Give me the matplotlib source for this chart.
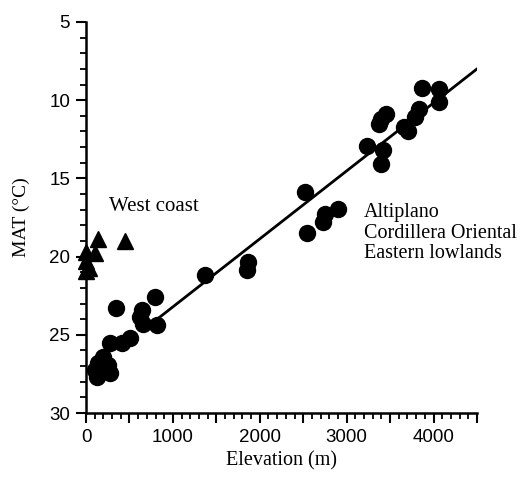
import numpy as np
import matplotlib.pyplot as plt
from matplotlib.ticker import MultipleLocator, FixedLocator, FixedFormatter

# West coast stations (triangles)
west_elev = [140, 450, 0, 100, 0, 40, 0]
west_mat = [18.9, 19.0, 19.7, 19.8, 20.3, 20.75, 20.9]

# Altiplano / Cordillera Oriental / Eastern lowlands stations (circles)
east_elev = [350, 795, 640, 620, 660, 815, 505, 410, 275, 200, 140, 105, 125, 275, 255,
             1370, 1865, 1850,
             2520, 2900, 2750, 2730, 2540,
             3870, 4060, 4065, 3830, 3790, 3660, 3710, 3450, 3400, 3370,
             3230, 3420, 3400]
east_mat = [23.3, 22.6, 23.4, 23.85, 24.3, 24.4, 25.2, 25.5, 25.5, 26.4, 26.8, 27.25, 27.7, 27.45, 26.95,
            21.2, 20.35, 20.85,
            15.85, 16.95, 17.25, 17.8, 18.5,
            9.2, 9.3, 10.1, 10.55, 11.05, 11.7, 11.95, 10.9, 11.2, 11.5,
            12.95, 13.2, 14.1]

# regression line end points
line_elev = [750, 4500]
line_mat = [24.3, 8.0]

x_ticks = np.arange(0, 4501, 500)
x_labels = ['0', '', '1000', '', '2000', '', '3000', '', '4000', '']

serif = 'Liberation Serif'
sans = 'Liberation Sans'

fig = plt.figure(figsize=(5.26, 4.79), dpi=100)
ax = fig.add_axes([86/526, 1-413/479, (477-86)/526, (413-22)/479])

ax.plot(line_elev, line_mat, color='black', lw=2, zorder=2)
ax.plot(east_elev, east_mat, 'o', color='black', ms=11.5, zorder=3)
ax.plot(west_elev, west_mat, '^', color='black', ms=11, zorder=3, clip_on=False)

ax.set_xlim(0, 4500)
ax.set_ylim(30, 5)

ax.xaxis.set_major_locator(FixedLocator(x_ticks))
ax.xaxis.set_major_formatter(FixedFormatter(x_labels))
ax.xaxis.set_minor_locator(MultipleLocator(100))
ax.yaxis.set_major_locator(MultipleLocator(5))
ax.yaxis.set_minor_locator(MultipleLocator(1))

ax.spines['top'].set_visible(False)
ax.spines['right'].set_visible(False)
ax.spines['left'].set_linewidth(1.8)
ax.spines['bottom'].set_linewidth(1.8)
ax.tick_params(which='major', direction='out', length=7.5, width=1.5, labelsize=13.5, pad=4)
ax.tick_params(which='minor', direction='out', length=4, width=1.3)
for lab in ax.get_xticklabels() + ax.get_yticklabels():
    lab.set_fontfamily(sans)

ax.set_xlabel('Elevation (m)', fontfamily=serif, fontsize=14.5, labelpad=4)
ax.set_ylabel('MAT (°C)', fontfamily=serif, fontsize=14, labelpad=14)

ax.text(260, 16.8, 'West coast', fontfamily=serif, fontsize=15, va='center')
ax.text(3200, 17.2, 'Altiplano', fontfamily=serif, fontsize=14.5, va='center')
ax.text(3200, 18.5, 'Cordillera Oriental', fontfamily=serif, fontsize=14.5, va='center', clip_on=False)
ax.text(3200, 19.8, 'Eastern lowlands', fontfamily=serif, fontsize=14.5, va='center')

fig.savefig('out.png', dpi=100)
